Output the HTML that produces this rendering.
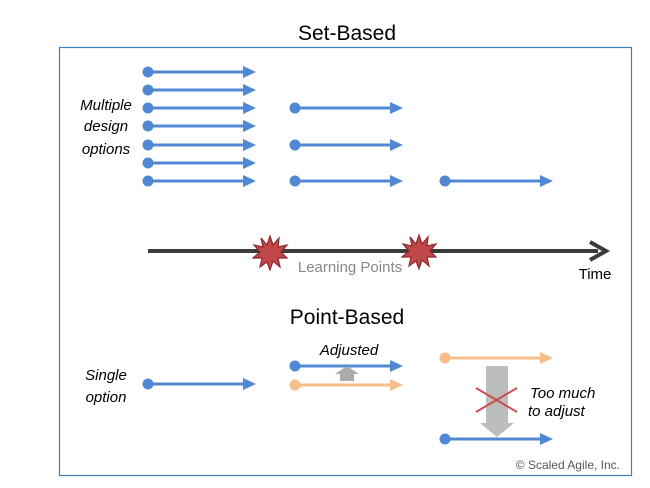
<!DOCTYPE html>
<html><head><style>body{margin:0;background:#fff}svg{display:block}</style></head><body>
<svg width="650" height="488" viewBox="0 0 650 488" xmlns="http://www.w3.org/2000/svg" font-family="Liberation Sans, sans-serif">
<defs>
<g id="b"><circle cx="0" cy="0" r="5.5" fill="#5088d4"/><line x1="0" y1="0" x2="97" y2="0" stroke="#5088d4" stroke-width="3"/><polygon points="95,-6 108,0 95,6" fill="#5088d4"/></g>
<g id="o"><circle cx="0" cy="0" r="5.5" fill="#f8bd8a"/><line x1="0" y1="0" x2="97" y2="0" stroke="#f8bd8a" stroke-width="3"/><polygon points="95,-6 108,0 95,6" fill="#f8bd8a"/></g>
</defs>
<rect x="59.5" y="47.5" width="572" height="428" fill="none" stroke="#3f7cc8" stroke-width="1.2"/>
<text x="347" y="40" font-size="21" text-anchor="middle" fill="#000">Set-Based</text>
<g font-style="italic" font-size="15" text-anchor="middle" fill="#000">
<text x="106" y="110">Multiple</text><text x="106" y="131">design</text><text x="106" y="154">options</text>
<text x="106" y="380">Single</text><text x="106" y="402">option</text>
<text x="349" y="355">Adjusted</text>
<text x="530" y="398" text-anchor="start">Too much</text><text x="528" y="416" text-anchor="start">to adjust</text>
</g>
<use href="#b" x="148" y="72"/><use href="#b" x="148" y="90"/><use href="#b" x="148" y="108"/><use href="#b" x="148" y="126"/><use href="#b" x="148" y="145"/><use href="#b" x="148" y="163"/><use href="#b" x="148" y="181"/>
<use href="#b" x="295" y="108"/><use href="#b" x="295" y="145"/><use href="#b" x="295" y="181"/>
<use href="#b" x="445" y="181"/>
<line x1="148" y1="251" x2="598" y2="251" stroke="#3b3b3b" stroke-width="4"/>
<polyline points="590,242 606,251 590,260" fill="none" stroke="#3b3b3b" stroke-width="4"/>
<text x="595" y="279" font-size="15" text-anchor="middle">Time</text>
<text x="350" y="272" font-size="15" text-anchor="middle" fill="#888">Learning Points</text>
<g fill="#c0474a" stroke="#8e2a2c" stroke-width="1.2">
<polygon transform="translate(270,253)" points="0,-17 3,-8 9,-15 8,-6 17,-8 11,-1 17,5 8,5 10,14 3,8 0,17 -3,9 -10,14 -8,5 -17,5 -10,-1 -16,-8 -7,-6 -9,-15 -3,-8"/>
<polygon transform="translate(419,252)" points="0,-17 3,-8 9,-15 8,-6 17,-8 11,-1 17,5 8,5 10,14 3,8 0,17 -3,9 -10,14 -8,5 -17,5 -10,-1 -16,-8 -7,-6 -9,-15 -3,-8"/>
</g>
<text x="347" y="324" font-size="21" text-anchor="middle">Point-Based</text>
<use href="#b" x="148" y="384"/>
<use href="#b" x="295" y="366"/>
<use href="#o" x="295" y="385"/>
<polygon points="340,381 340,374 335,374 347,366 359,374 354,374 354,381" fill="#aaa"/>
<use href="#o" x="445" y="358"/>
<polygon points="486,366 508,366 508,423 514,423 497,437 480,423 486,423" fill="#bdbdbd"/>
<g stroke="#c85050" stroke-width="2"><line x1="476" y1="388" x2="517" y2="412"/><line x1="476" y1="412" x2="517" y2="388"/></g>
<use href="#b" x="445" y="439"/>
<text x="620" y="469" font-size="12" text-anchor="end" fill="#555">© Scaled Agile, Inc.</text>
</svg>
</body></html>
